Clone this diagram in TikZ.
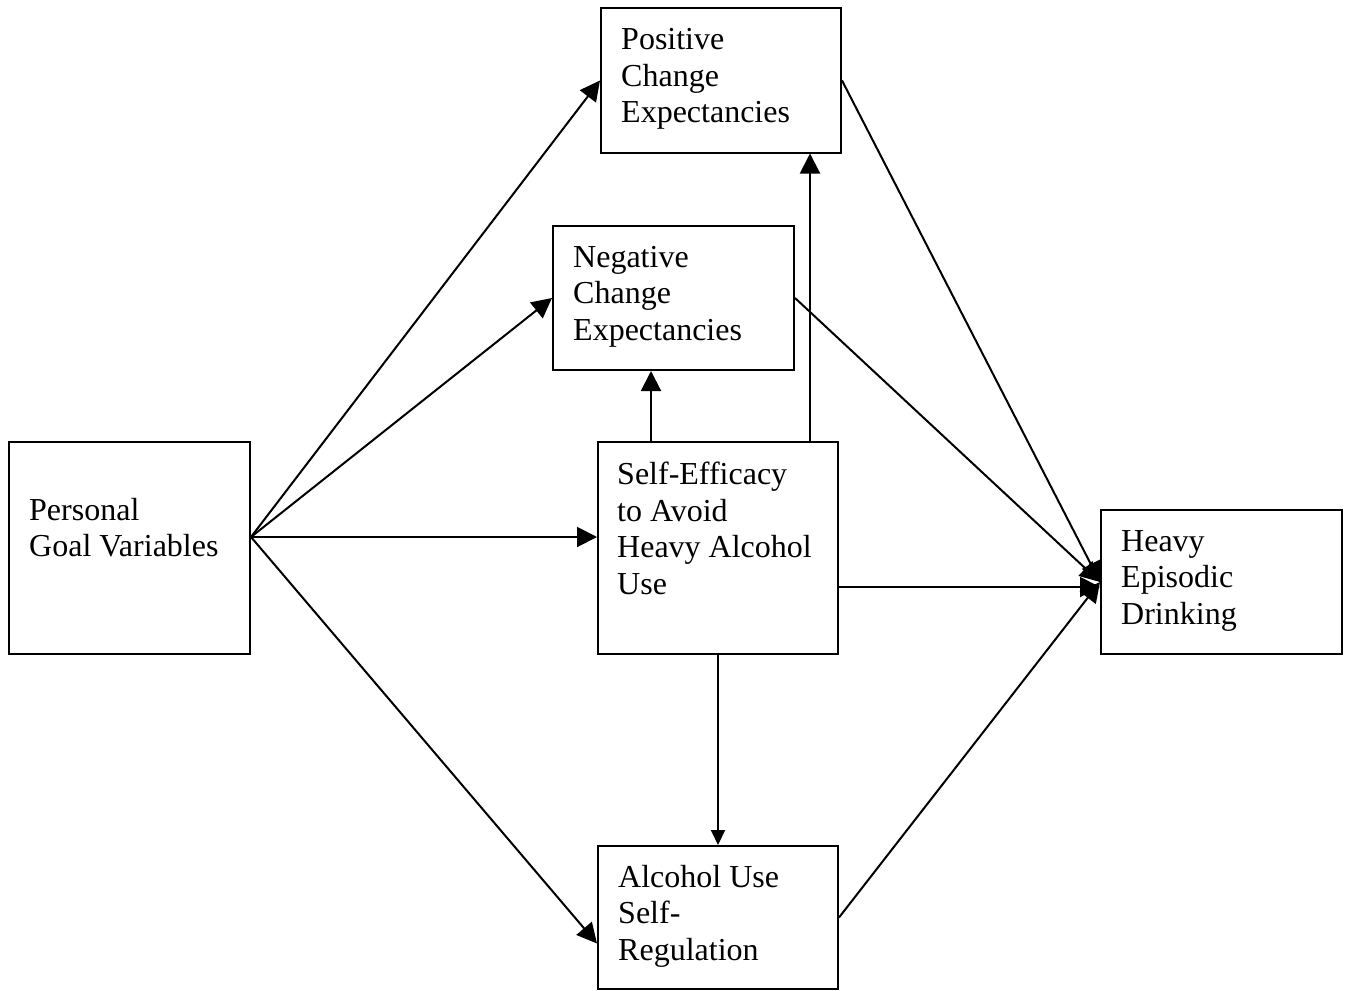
\documentclass[tikz,border=0pt]{standalone}
\usepackage{fontspec}
\setmainfont{Liberation Serif}
\usepackage{tikz}
\usetikzlibrary{arrows.meta,positioning}
\tikzstyle{box}=[draw, line width=2pt, minimum width=240pt, minimum height=144pt, inner sep=0pt]
\tikzstyle{lbl}=[anchor=north west, inner sep=0pt, align=left, font=\fontsize{32}{36.5}\selectfont, execute at begin node={\rule{0pt}{28pt}}]
\tikzstyle{link}=[line width=2pt, -{Triangle[length=20pt,width=20pt]}]
\tikzstyle{linksm}=[line width=2pt, -{Triangle[length=15pt,width=14pt]}]

\begin{document}
\begin{tikzpicture}[x=1pt,y=-1pt]
\useasboundingbox (0,0) rectangle (1351,990);

% boxes
\node (pgv) [box, minimum width=241pt, minimum height=212pt] at (129.5,548) {};
\node (pce) [box] at (721,80.5) {};
\node (nce) [box, minimum width=241pt] at (673.5,298) {};
\node (se)  [box, minimum height=212pt] at (718,548) {};
\node (aur) [box, minimum height=143pt] at (718,917.5) {};
\node (hed) [box, minimum width=241pt] at (1221.5,582) {};

% texts
\node (pgvtxt) [lbl] at ([xshift=21pt,yshift=-57pt]pgv.north west) {Personal\\Goal Variables};
\node (pcetxt) [lbl] at ([xshift=21pt,yshift=-21pt]pce.north west) {Positive\\Change\\Expectancies};
\node (ncetxt) [lbl] at ([xshift=21pt,yshift=-21pt]nce.north west) {Negative\\Change\\Expectancies};
\node (setxt)  [lbl] at ([xshift=20pt,yshift=-21pt]se.north west) {Self-Efficacy\\to Avoid\\Heavy Alcohol\\Use};
\node (aurtxt) [lbl] at ([xshift=21pt,yshift=-20pt]aur.north west) {Alcohol Use\\Self-\\Regulation};
\node (hedtxt) [lbl] at ([xshift=21pt,yshift=-21pt]hed.north west) {Heavy\\Episodic\\Drinking};

% connectors
\coordinate (pgvout) at ([yshift=11pt]pgv.east);
\coordinate (hedin) at ([yshift=-5pt]hed.west);
\draw [link] (pgvout) -- (pce.west);
\draw [link] (pgvout) -- (nce.west);
\draw [link] (pgvout) -- (se.west |- pgvout);
\draw [link] (pgvout) -- ([yshift=-26pt]aur.west);
\draw [link] ([xshift=-67pt]se.north) -- ([xshift=-67pt]se.north |- nce.south);
\draw [link] ([xshift=92pt]se.north) -- ([xshift=92pt]se.north |- pce.south);
\draw [linksm] (se.south) -- (aur.north);
\draw [link] (se.east |- hedin) -- (hedin);
\draw [link] (pce.east) -- (hed.west);
\draw [link] (nce.east) -- (hed.west);
\draw [link] (aur.east) -- (hed.west);

\end{tikzpicture}
\end{document}
